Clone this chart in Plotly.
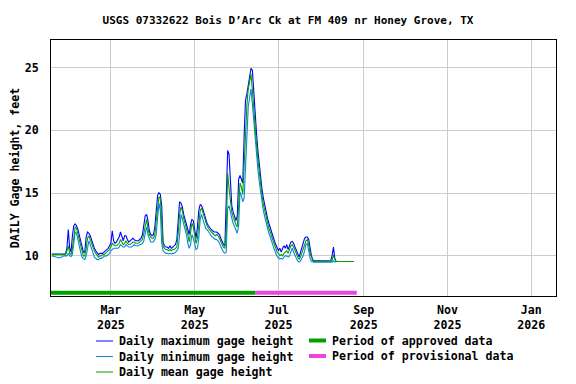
"""
Daily gage height at USGS 07332622 Bois D'Arc Ck, drawn as a Plotly line chart.
"""
import pandas as pd
import plotly.graph_objects as go

START_DATE = "2025-01-17"

# daily mean gage height, feet (Jan 17 - Aug 25, 2025)
gage_mean = [
    10.1, 10.1, 10.1, 10.1, 10.1, 10.1, 10.1, 10.1, 10.1, 10.1, 10.1, 10.4, 10.8, 10.2,
    10.1, 10.6, 11.6, 12.3, 12.2, 11.7, 11.2, 10.8, 10.4, 10.0, 10.0, 10.6, 11.4, 11.6,
    11.3, 10.9, 10.6, 10.4, 10.2, 10.0, 9.9, 10.0, 10.0, 10.1, 10.1, 10.2, 10.3, 10.4,
    10.5, 10.7, 11.0, 10.9, 10.8, 10.8, 10.9, 11.0, 11.3, 11.1, 10.9, 11.0, 11.2, 11.0,
    10.9, 10.9, 11.0, 11.1, 11.1, 11.0, 11.0, 11.0, 11.1, 11.2, 11.3, 11.8, 12.5, 12.9,
    12.2, 11.7, 11.5, 11.4, 11.4, 11.7, 12.8, 14.1, 14.7, 14.6, 12.5, 10.8, 10.6, 10.5,
    10.5, 10.4, 10.5, 10.4, 10.5, 10.5, 10.6, 10.7, 11.8, 13.3, 13.9, 13.6, 13.0, 12.6,
    12.2, 11.7, 11.1, 11.8, 12.6, 12.3, 11.5, 11.0, 11.4, 12.6, 13.6, 13.8, 13.4, 13.0,
    12.6, 12.4, 12.2, 12.0, 11.9, 11.8, 11.7, 11.6, 11.7, 11.6, 11.4, 11.1, 10.9, 10.7,
    10.6, 12.0, 16.6, 15.4, 14.2, 13.5, 13.1, 12.7, 12.5, 12.3, 14.2, 15.8, 15.5, 14.9,
    17.2, 19.8, 22.0, 23.3, 23.9, 24.5, 23.2, 21.6, 20.2, 18.9, 17.7, 16.6, 15.7, 14.8,
    14.1, 13.6, 13.1, 12.6, 12.2, 11.9, 11.5, 11.2, 10.9, 10.6, 10.3, 10.2, 10.0, 10.1,
    10.0, 10.2, 10.3, 10.4, 10.2, 10.5, 10.8, 10.9, 10.7, 10.4, 10.2, 9.9, 9.7, 9.9,
    10.2, 10.5, 10.9, 11.2, 11.3, 10.9, 10.2, 9.8, 9.6, 9.55, 9.55, 9.55, 9.55, 9.55,
    9.55, 9.55, 9.55, 9.55, 9.55, 9.55, 9.55, 9.55, 9.6, 10.1, 9.7, 9.55, 9.55, 9.55,
    9.55, 9.55, 9.55, 9.55, 9.55, 9.55, 9.55, 9.55, 9.55, 9.55, 9.55,
]

# daily maximum gage height, feet
gage_max = [
    10.15, 10.15, 10.15, 10.1, 10.1, 10.1, 10.1, 10.1, 10.1, 10.15, 10.15, 10.6, 12.1, 10.6,
    10.3, 11.6, 12.4, 12.55, 12.4, 12.1, 11.6, 11.1, 10.8, 10.3, 10.3, 11.5, 11.9, 11.8,
    11.6, 11.2, 10.9, 10.6, 10.4, 10.2, 10.1, 10.2, 10.2, 10.2, 10.3, 10.4, 10.5, 10.6,
    10.8, 11.0, 12.0, 11.2, 11.0, 11.1, 11.3, 11.5, 11.9, 11.5, 11.2, 11.6, 11.6, 11.3,
    11.1, 11.2, 11.3, 11.4, 11.3, 11.2, 11.2, 11.2, 11.3, 11.4, 11.7, 12.4, 13.2, 13.3,
    12.8, 12.0, 11.7, 11.6, 11.7, 12.3, 13.9, 14.8, 15.05, 14.9, 14.0, 11.1, 10.8, 10.7,
    10.7, 10.6, 10.8, 10.6, 10.7, 10.8, 10.9, 11.3, 13.2, 14.3, 14.2, 13.9, 13.3, 12.9,
    12.5, 12.1, 11.7, 12.5, 12.9, 12.8, 12.0, 11.4, 12.3, 13.6, 14.1, 14.0, 13.7, 13.3,
    12.9, 12.6, 12.4, 12.2, 12.1, 12.0, 11.9, 11.9, 11.9, 11.8, 11.7, 11.4, 11.1, 10.9,
    10.8, 15.2, 18.4, 18.1, 15.3, 14.0, 13.5, 13.1, 12.8, 13.2, 16.1, 16.4, 16.0, 15.8,
    19.6, 22.4, 22.9, 23.6, 24.6, 24.95, 24.8, 22.8, 21.2, 19.8, 18.4, 17.2, 16.3, 15.3,
    14.6, 14.0, 13.5, 13.0, 12.6, 12.2, 11.9, 11.5, 11.2, 10.9, 10.6, 10.4, 10.6, 10.3,
    10.6, 10.8, 10.6, 10.9, 10.5, 10.8, 11.1, 11.15, 11.0, 10.7, 10.5, 10.2, 9.9, 10.3,
    10.6, 11.0, 11.4, 11.5, 11.5, 11.3, 10.6, 10.0, 9.7, 9.6, 9.6, 9.6, 9.6, 9.6,
    9.6, 9.6, 9.6, 9.6, 9.6, 9.6, 9.6, 9.6, 10.0, 10.7, 9.8, 9.55, 9.55, 9.55,
    9.55, 9.55, 9.55, 9.55, 9.55, 9.55, 9.55, 9.55, 9.55, 9.55, 9.55,
]

# daily minimum gage height, feet
gage_min = [
    10.0, 10.0, 9.95, 9.9, 9.85, 9.85, 9.85, 9.9, 10.0, 10.0, 10.0, 10.0, 10.2, 10.0,
    9.95, 10.1, 11.0, 11.9, 11.8, 11.2, 10.8, 10.3, 9.9, 9.75, 9.7, 10.0, 10.8, 11.2,
    10.9, 10.5, 10.2, 9.9, 9.8, 9.7, 9.7, 9.8, 9.8, 9.9, 9.95, 10.0, 10.0, 10.1,
    10.2, 10.4, 10.5, 10.6, 10.6, 10.6, 10.6, 10.7, 10.9, 10.8, 10.7, 10.7, 10.9, 10.8,
    10.7, 10.7, 10.7, 10.8, 10.9, 10.8, 10.8, 10.8, 10.9, 10.9, 11.0, 11.2, 11.8, 12.3,
    11.7, 11.3, 11.1, 11.1, 11.1, 11.3, 11.7, 13.0, 14.2, 13.6, 11.0, 10.4, 10.3, 10.2,
    10.2, 10.15, 10.2, 10.15, 10.2, 10.2, 10.3, 10.4, 10.6, 11.6, 13.3, 13.0, 12.5, 12.1,
    11.7, 11.0, 10.6, 10.9, 11.7, 11.4, 10.9, 10.5, 10.6, 11.4, 12.9, 13.3, 12.9, 12.5,
    12.2, 12.1, 11.9, 11.7, 11.6, 11.5, 11.4, 11.3, 11.3, 11.2, 11.0, 10.7, 10.5, 10.3,
    10.2, 10.3, 13.8, 14.0, 13.4, 13.0, 12.6, 12.3, 12.1, 11.8, 12.4, 15.1, 14.8, 14.3,
    14.6, 17.3, 19.7, 21.9, 22.6, 23.3, 22.1, 20.6, 19.2, 18.0, 16.9, 15.9, 15.0, 14.2,
    13.6, 13.1, 12.6, 12.2, 11.8, 11.5, 11.1, 10.8, 10.5, 10.2, 9.95, 9.85, 9.75, 9.8,
    9.75, 9.9, 10.0, 10.0, 9.9, 10.0, 10.4, 10.6, 10.3, 10.0, 9.8, 9.6, 9.5, 9.6,
    9.8, 10.0, 10.4, 10.9, 11.0, 10.4, 9.8, 9.55, 9.5, 9.5, 9.5, 9.5, 9.5, 9.5,
    9.5, 9.5, 9.5, 9.5, 9.5, 9.5, 9.5, 9.5, 9.5, 9.6, 9.5, 9.55, 9.55, 9.55,
    9.55, 9.55, 9.55, 9.55, 9.55, 9.55, 9.55, 9.55, 9.55, 9.55, 9.55,
]

# data-status periods drawn along the bottom of the plot
approved_period = ["2025-01-16", "2025-06-14"]
provisional_period = ["2025-06-14", "2025-08-27"]
status_level = 7.05

tick_dates = ["2025-03-01", "2025-05-01", "2025-07-01", "2025-09-01", "2025-11-01", "2026-01-01"]
tick_text = ["Mar<br>2025", "May<br>2025", "Jul<br>2025", "Sep<br>2025", "Nov<br>2025", "Jan<br>2026"]
y_ticks = [10, 15, 20, 25]

series_names = ["Daily maximum gage height", "Daily minimum gage height", "Daily mean gage height"]
series_colors = ["#0000ff", "#0a86d8", "#00a000"]
status_names = ["Period of approved data", "Period of provisional data"]
status_colors = ["#00a000", "#ee44dd"]

TITLE_FONT = dict(family="DejaVu Sans Mono", size=11, color="black", weight="bold")
FONT = dict(family="DejaVu Sans Mono", size=11.6, color="black", weight="bold")

# the page body adds an 8px offset, so the figure is sized to fill the rest of the window
PAGE = 8
W, H = 576 - PAGE, 384 - PAGE
L, R, T, B = 51 - PAGE, 20, 40 - PAGE, 88


def px_to_paper(px, py):
    # px, py are window pixels
    return (px - PAGE - L) / (W - L - R), (H - B - (py - PAGE)) / (H - T - B)


dates = pd.date_range(START_DATE, periods=len(gage_mean), freq="D")

fig = go.Figure()
for name, vals, color in zip(series_names, [gage_max, gage_min, gage_mean], series_colors):
    fig.add_trace(go.Scatter(x=dates, y=vals, mode="lines", name=name,
                             line=dict(color=color, width=1.1)))

for name, period, color in zip(status_names, [approved_period, provisional_period], status_colors):
    fig.add_trace(go.Scatter(x=pd.to_datetime(period), y=[status_level, status_level],
                             mode="lines", name=name, line=dict(color=color, width=4)))

# hand-placed legend: two columns under the plot
legend_rows = [(series_names[0], series_colors[0], 1, 96, 341),
               (series_names[1], series_colors[1], 1, 96, 356.5),
               (series_names[2], series_colors[2], 1, 96, 372),
               (status_names[0], status_colors[0], 4, 309, 340.5),
               (status_names[1], status_colors[1], 4, 309, 356)]
for text, color, lw, x0, y0 in legend_rows:
    ax0, ay = px_to_paper(x0, y0)
    ax1, _ = px_to_paper(x0 + 17, y0)
    fig.add_shape(type="line", xref="paper", yref="paper", x0=ax0, x1=ax1, y0=ay, y1=ay,
                  line=dict(color=color, width=lw))
    tx, _ = px_to_paper(x0 + 21, y0)
    fig.add_annotation(text=text, xref="paper", yref="paper", x=tx, y=ay,
                       xanchor="left", yanchor="middle", showarrow=False, font=FONT)

fig.update_layout(
    width=W, height=H,
    margin=dict(l=L, r=R, t=T, b=B, autoexpand=False),
    paper_bgcolor="white", plot_bgcolor="white",
    showlegend=False,
    font=FONT,
    title=dict(text="USGS 07332622 Bois D\u2019Arc Ck at FM 409 nr Honey Grove, TX",
               x=(288 - PAGE) / W, xref="container", xanchor="center",
               y=1 - (20 - PAGE) / H, yanchor="middle", font=TITLE_FONT),
)
fig.update_xaxes(range=["2025-01-16 10:00", "2026-01-19"], tickvals=tick_dates, ticktext=tick_text,
                 showgrid=True, gridcolor="#cccccc", gridwidth=1,
                 showline=True, linecolor="black", linewidth=1, mirror=True,
                 ticks="", ticklabelstandoff=3, zeroline=False)
fig.update_yaxes(range=[6.8, 27.2], tickvals=y_ticks,
                 showgrid=True, gridcolor="#cccccc", gridwidth=1,
                 showline=True, linecolor="black", linewidth=1, mirror=True,
                 ticks="", ticklabelstandoff=9, zeroline=False,
                 title=dict(text="DAILY Gage height, feet", font=FONT, standoff=10))

fig.write_html("out.html")
